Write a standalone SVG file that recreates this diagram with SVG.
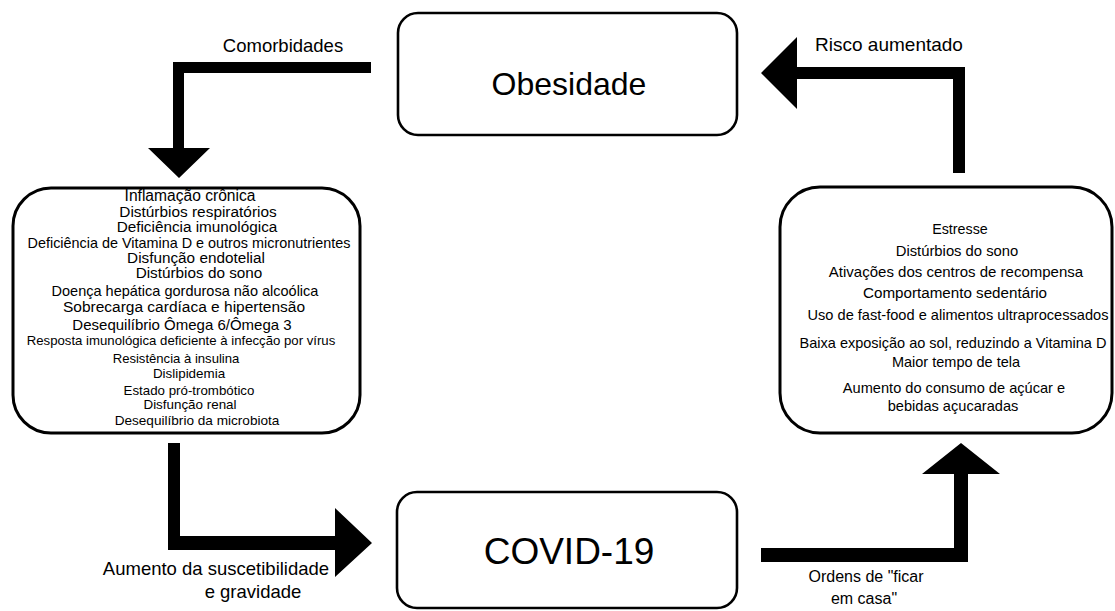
<svg xmlns="http://www.w3.org/2000/svg" width="1115" height="611" viewBox="0 0 1115 611">
<style>
text{font-family:"Liberation Sans",Arial,Helvetica,sans-serif;fill:#000;text-anchor:middle}
.box{fill:#fff;stroke:#000;stroke-width:2.6}
.arrow{fill:#000;stroke:none}
.lab{font-size:18.5px}
</style>
<rect width="1115" height="611" fill="#fff"/>
<g id="connectors">
<polygon class="arrow" points="371,62 173,62 173,148 148,148 179,178 210,148 184,148 184,73 371,73"/>
<polygon class="arrow" points="761,73 797,37 797,67 965,67 965,173 953,173 953,79 797,79 797,109"/>
<polygon class="arrow" points="168,443 180,443 180,536 335,536 335,508 372,543 335,577 335,550 168,550"/>
<polygon class="arrow" points="761,548 954,548 954,474 922,474 961,443 1000,474 968,474 968,562 761,562"/>
<text class="lab" x="283" y="52">Comorbidades</text>
<text class="lab" x="889" y="51" style="font-size:19px">Risco aumentado</text>
<text class="lab" x="216" y="575">Aumento da suscetibilidade</text>
<text class="lab" x="253" y="598">e gravidade</text>
<text x="866" y="582" style="font-size:16px">Ordens de "ficar</text>
<text x="864" y="604" style="font-size:16px">em casa"</text>
</g>
<g id="obesidade">
<rect class="box" x="398" y="13" width="339" height="122" rx="20"/>
<text x="569" y="95" style="font-size:32px">Obesidade</text>
</g>
<g id="covid">
<rect class="box" x="397" y="492" width="340" height="116" rx="20"/>
<text x="569" y="564" style="font-size:37px">COVID-19</text>
</g>
<g id="comorbidades-box">
<rect class="box" x="13" y="188" width="347" height="245" rx="38" style="stroke-width:3"/>
<text x="190" y="201" style="font-size:15.6px">Inflamação crônica</text>
<text x="198" y="217" style="font-size:15.4px">Distúrbios respiratórios</text>
<text x="197" y="232" style="font-size:15.3px">Deficiência imunológica</text>
<text x="189" y="248" style="font-size:14.4px">Deficiência de Vitamina D e outros micronutrientes</text>
<text x="196" y="263" style="font-size:15.3px">Disfunção endotelial</text>
<text x="199" y="278" style="font-size:15.3px">Distúrbios do sono</text>
<text x="185" y="296" style="font-size:14.5px">Doença hepática gordurosa não alcoólica</text>
<text x="184" y="312" style="font-size:15.5px">Sobrecarga cardíaca e hipertensão</text>
<text x="182" y="330" style="font-size:15px">Desequilíbrio Ômega 6/Ômega 3</text>
<text x="181" y="345" style="font-size:13.2px">Resposta imunológica deficiente à infecção por vírus</text>
<text x="176" y="363" style="font-size:13.1px">Resistência à insulina</text>
<text x="189" y="378" style="font-size:13.4px">Dislipidemia</text>
<text x="189" y="395" style="font-size:13.3px">Estado pró-trombótico</text>
<text x="190" y="409" style="font-size:13.4px">Disfunção renal</text>
<text x="197" y="425" style="font-size:13.6px">Desequilíbrio da microbiota</text>
</g>
<g id="fatores-box">
<rect class="box" x="780" y="187" width="332" height="246" rx="40" style="stroke-width:3"/>
<text x="960" y="234" style="font-size:14.3px">Estresse</text>
<text x="957" y="256" style="font-size:14.8px">Distúrbios do sono</text>
<text x="956" y="277" style="font-size:15px">Ativações dos centros de recompensa</text>
<text x="955" y="298" style="font-size:15.2px">Comportamento sedentário</text>
<text x="958" y="320" style="font-size:14.6px">Uso de fast-food e alimentos ultraprocessados</text>
<text x="953" y="348" style="font-size:14.5px">Baixa exposição ao sol, reduzindo a Vitamina D</text>
<text x="956" y="367" style="font-size:14.5px">Maior tempo de tela</text>
<text x="954" y="393" style="font-size:14.6px">Aumento do consumo de açúcar e</text>
<text x="953" y="411" style="font-size:14.6px">bebidas açucaradas</text>
</g>
</svg>
